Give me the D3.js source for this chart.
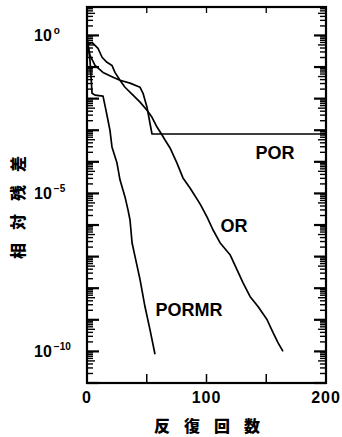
<!DOCTYPE html>
<meta charset="utf-8">
<style>
  body { margin: 0; background: #fff; }
  .curve { fill: none; stroke: #000; stroke-width: 1.7px; stroke-linejoin: round; }
  .lab { font-family: "Liberation Sans", Arial, sans-serif; font-weight: bold; fill: #000; }
  .cjk { font-family: "Noto Sans CJK JP", sans-serif; font-weight: 900; fill: #000; }
</style>
<body>
<script src="https://d3js.org/d3.v7.min.js"></script>
<script>
  // iteration count vs log10(relative residual)
  var porIter = [0, 2.5, 6.7, 13.4, 21.8, 27.6, 36, 44.4, 46.9, 50.2, 52.7, 54.4, 200];
  var porLog  = [-0.15, -0.63, -0.95, -1.17, -1.32, -1.42, -1.51, -1.64, -1.83, -2.27, -2.78, -3.12, -3.12];

  var orIter = [0, 4.2, 9.2, 12.6, 16.7, 20.9, 23.4, 27.6, 31.8, 38.5, 44.4, 50.2, 54.4, 58.6, 62.8, 65.3,
                69.5, 75.3, 80.3, 86.2, 94.6, 100.4, 105.4, 111.3, 119.7, 125.5, 130.5, 136.4, 143.1, 150.6, 155.6, 159.8, 164];
  var orLog  = [-0.3, -0.22, -0.41, -0.69, -0.85, -0.95, -1.17, -1.42, -1.64, -1.89, -2.11, -2.37, -2.59, -2.9, -3.15, -3.31,
                -3.56, -4.04, -4.51, -4.83, -5.33, -5.74, -6.15, -6.56, -6.94, -7.41, -7.82, -8.26, -8.58, -8.99, -9.4, -9.72, -10.0];

  var pormrIter = [0, 2.5, 3.3, 4.2, 6.7, 13.4, 15.9, 19.2, 20.9, 25.1, 27.6, 31.8, 34.3, 36, 37.7, 40.2, 44.4, 48.5, 52.7, 56.9];
  var pormrLog  = [0, -0.79, -1.26, -1.83, -1.89, -1.92, -2.37, -3.0, -3.53, -4.04, -4.57, -5.11, -5.52, -5.84, -6.56, -7.0, -7.73, -8.58, -9.31, -10.09];

  var xTicks = [0, 100, 200];
  var yMajor = [0, -5, -10];

  var W = 342, H = 437;
  var mLeft = 87, mRight = 326, mTop = 7, mBottom = 383;

  var x = d3.scaleLinear().domain([0, 200]).range([mLeft, mRight]);
  var y = d3.scaleLog().domain([1e-11, Math.pow(10, 0.9)]).range([mBottom, mTop]);

  var svg = d3.select("body").append("svg")
    .attr("width", W).attr("height", H);

  // ticks on log axis
  var logTicks = [];
  for (var n = -11; n <= 0; n++) {
    for (var k = 1; k <= 9; k++) {
      var v = k * Math.pow(10, n);
      if (v >= 1e-11 && v <= Math.pow(10, 0.9)) logTicks.push({v: v, k: k});
    }
  }
  function tlen(d) { return d.k === 1 ? 12 : (d.k === 5 ? 8 : 6); }

  var frame = svg.append("g");
  frame.selectAll(".tl").data(logTicks).enter().append("line")
    .attr("x1", mLeft).attr("x2", function(d) { return mLeft + tlen(d); })
    .attr("y1", function(d) { return y(d.v); }).attr("y2", function(d) { return y(d.v); })
    .attr("stroke", "#000").attr("stroke-width", function(d) { return d.k === 1 ? 2.2 : 1.4; });
  frame.selectAll(".tr").data(logTicks).enter().append("line")
    .attr("x1", mRight).attr("x2", function(d) { return mRight - tlen(d); })
    .attr("y1", function(d) { return y(d.v); }).attr("y2", function(d) { return y(d.v); })
    .attr("stroke", "#000").attr("stroke-width", function(d) { return d.k === 1 ? 2.2 : 1.4; });

  var xMinor = [50, 100, 150];
  frame.selectAll(".tb").data(xMinor).enter().append("line")
    .attr("x1", function(d) { return x(d); }).attr("x2", function(d) { return x(d); })
    .attr("y1", mBottom).attr("y2", mBottom - 9)
    .attr("stroke", "#000").attr("stroke-width", 1.5);
  frame.selectAll(".tt").data(xMinor).enter().append("line")
    .attr("x1", function(d) { return x(d); }).attr("x2", function(d) { return x(d); })
    .attr("y1", mTop).attr("y2", mTop + 6)
    .attr("stroke", "#000").attr("stroke-width", 1.3);

  frame.append("rect")
    .attr("x", mLeft).attr("y", mTop)
    .attr("width", mRight - mLeft).attr("height", mBottom - mTop)
    .attr("fill", "none").attr("stroke", "#000").attr("stroke-width", 2.2);

  // curves
  function series(xs, ls) {
    return xs.map(function(v, i) { return [v, Math.pow(10, ls[i])]; });
  }
  var line = d3.line()
    .x(function(d) { return x(d[0]); })
    .y(function(d) { return y(d[1]); });

  svg.append("path").attr("class", "curve").attr("d", line(series(porIter, porLog)));
  svg.append("path").attr("class", "curve").attr("d", line(series(orIter, orLog)));
  svg.append("path").attr("class", "curve").attr("d", line(series(pormrIter, pormrLog)));

  // curve labels
  svg.append("text").attr("class", "lab").attr("font-size", 18)
    .attr("x", 275).attr("y", 159).attr("text-anchor", "middle").text("POR");
  svg.append("text").attr("class", "lab").attr("font-size", 18)
    .attr("x", 234).attr("y", 232).attr("text-anchor", "middle").text("OR");
  svg.append("text").attr("class", "lab").attr("font-size", 18)
    .attr("x", 189).attr("y", 316).attr("text-anchor", "middle").text("PORMR");

  // y tick labels
  yMajor.forEach(function(e) {
    var t = svg.append("text").attr("class", "lab").attr("font-size", 16)
      .attr("x", 34).attr("y", y(Math.pow(10, e)) + 6);
    t.append("tspan").text("10");
    t.append("tspan").attr("font-size", 10).attr("dy", -7).attr("dx", 2)
      .text(e === 0 ? "o" : "\u2212" + (-e));
  });

  // x tick labels
  svg.selectAll(".xl").data(xTicks).enter().append("text")
    .attr("class", "lab").attr("font-size", 16).attr("text-anchor", "middle")
    .attr("x", function(d) { return x(d); }).attr("y", 403)
    .attr("letter-spacing", 1)
    .text(function(d) { return d; });

  // axis titles
  svg.append("text").attr("class", "cjk").attr("font-size", 16)
    .attr("x", 214).attr("y", 432).attr("text-anchor", "middle")
    .attr("letter-spacing", 14).text("反復回数");
  svg.append("text").attr("class", "cjk").attr("font-size", 16)
    .attr("transform", "translate(24,201) rotate(-90)")
    .attr("text-anchor", "middle").attr("letter-spacing", 13).text("相対残差");
</script>
</body>
